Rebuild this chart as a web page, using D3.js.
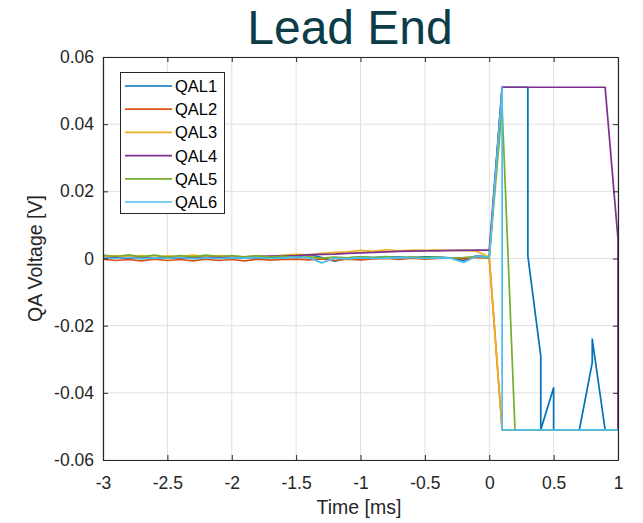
<!DOCTYPE html>
<html>
<head>
<meta charset="utf-8">
<script src="https://cdn.jsdelivr.net/npm/d3@7"></script>
<style>
  body { margin: 0; background: #fff; }
  text { font-family: "Liberation Sans", Arial, sans-serif; }
</style>
</head>
<body>
<svg id="chart" width="643" height="523"></svg>
<script>
// time axis (ms) - some stamps repeat where the trace jumps vertically
const time = [
  -3.0, -2.9, -2.8, -2.7, -2.6, -2.5, -2.4, -2.3, -2.2, -2.1,
  -2.0, -1.9, -1.8, -1.7, -1.6, -1.5, -1.4, -1.3, -1.2, -1.1,
  -1.0, -0.9, -0.8, -0.7, -0.6, -0.5, -0.4, -0.3, -0.2, -0.1, 0.0,
  0.1, 0.1, 0.2, 0.3, 0.3, 0.4, 0.4, 0.5, 0.5, 0.6, 0.7, 0.8, 0.8, 0.9, 1.0, 1.0
];

const qal1 = [
  0.0002, 0.0001, 0.0003, 0.0000, 0.0002, 0.0001, 0.0003, 0.0001, 0.0002, 0.0000,
  0.0002, 0.0003, 0.0001, 0.0004, 0.0002, 0.0005, 0.0012, 0.0003, -0.0008, 0.0002,
  0.0004, 0.0003, 0.0005, 0.0004, 0.0003, 0.0005, 0.0004, 0.0002, -0.0006, 0.0008, 0.0005,
  0.051, 0.051, 0.051, 0.051, 0.0007, -0.029, -0.051, -0.0385, -0.051, -0.051, -0.051, -0.031, -0.024, -0.051, -0.051, -0.051
];
const qal2 = [
  -0.0002, -0.0006, -0.0003, -0.0007, -0.0002, -0.0006, -0.0003, -0.0007, -0.0002, -0.0006,
  -0.0003, -0.0007, -0.0002, -0.0005, -0.0003, -0.0002, -0.0004, -0.0001, -0.0006, -0.0002,
  -0.0004, -0.0001, 0.0000, -0.0003, 0.0001, -0.0002, 0.0000, 0.0002, -0.0001, 0.0003, 0.0001,
  -0.051, -0.051, -0.051, -0.051, -0.051, -0.051, -0.051, -0.051, -0.051, -0.051, -0.051, -0.051, -0.051, -0.051, -0.051, -0.051
];
const qal3 = [
  0.0005, 0.0008, 0.0004, 0.0009, 0.0003, 0.0008, 0.0005, 0.0010, 0.0004, 0.0009,
  0.0006, 0.0004, 0.0008, 0.0006, 0.0010, 0.0012, 0.0011, 0.0015, 0.0018, 0.0020,
  0.0024, 0.0021, 0.0026, 0.0023, 0.0025, 0.0024, 0.0026, 0.0023, 0.0025, 0.0022, 0.0004,
  -0.051, -0.051, -0.051, -0.051, -0.051, -0.051, -0.051, -0.051, -0.051, -0.051, -0.051, -0.051, -0.051, -0.051, -0.051, -0.051
];
const qal4 = [
  0.0001, 0.0002, 0.0000, 0.0002, 0.0001, 0.0003, 0.0001, 0.0002, 0.0003, 0.0004,
  0.0003, 0.0005, 0.0006, 0.0007, 0.0008, 0.0009, 0.0011, 0.0012, 0.0013, 0.0015,
  0.0017, 0.0018, 0.0020, 0.0021, 0.0022, 0.0023, 0.0023, 0.0024, 0.0024, 0.0025, 0.0025,
  0.051, 0.051, 0.051, 0.051, 0.051, 0.051, 0.051, 0.051, 0.051, 0.051, 0.051, 0.051, 0.051, 0.051, 0.0057, -0.051
];
const qal5 = [
  0.0010, 0.0006, 0.0011, 0.0005, 0.0010, 0.0004, 0.0009, 0.0005, 0.0010, 0.0006,
  0.0009, 0.0005, 0.0008, 0.0004, 0.0007, 0.0003, 0.0005, 0.0001, 0.0004, 0.0002,
  0.0005, 0.0003, 0.0006, 0.0002, 0.0005, 0.0003, 0.0004, 0.0001, 0.0003, 0.0006, 0.0002,
  0.045, 0.045, -0.051, -0.051, -0.051, -0.051, -0.051, -0.051, -0.051, -0.051, -0.051, -0.051, -0.051, -0.051, -0.051, -0.051
];
const qal6 = [
  0.0002, 0.0000, 0.0003, -0.0001, 0.0002, 0.0000, 0.0003, -0.0001, 0.0002, 0.0000,
  0.0002, 0.0001, 0.0003, 0.0000, 0.0002, 0.0004, 0.0002, -0.0013, 0.0001, -0.0001,
  0.0002, 0.0000, 0.0002, 0.0001, 0.0003, 0.0000, 0.0002, 0.0001, -0.0012, 0.0007, 0.0003,
  0.051, -0.051, -0.051, -0.051, -0.051, -0.051, -0.051, -0.051, -0.051, -0.051, -0.051, -0.051, -0.051, -0.051, -0.051, -0.051
];

const names = ["QAL1", "QAL2", "QAL3", "QAL4", "QAL5", "QAL6"];
const colors = ["#0072BD", "#D95319", "#EDB120", "#7E2F8E", "#77AC30", "#4DBEEE"];
const xTicks = [-3, -2.5, -2, -1.5, -1, -0.5, 0, 0.5, 1];
const yTicks = [-0.06, -0.04, -0.02, 0, 0.02, 0.04, 0.06];

const series = [qal1, qal2, qal3, qal4, qal5, qal6].map((v, i) => ({
  name: names[i], color: colors[i],
  pts: v.map((y, j) => [time[j], y])
}));

const svg = d3.select("#chart");
const pLeft = 103, pRight = 618, pTop = 57, pBottom = 460;
const axisColor = "#262626";

const x = d3.scaleLinear().domain([-3, 1]).range([pLeft, pRight]);
const y = d3.scaleLinear().domain([-0.06, 0.06]).range([pBottom, pTop]);

// title
svg.append("text")
  .attr("x", 350).attr("y", 44)
  .attr("text-anchor", "middle")
  .style("font-size", "48px")
  .style("fill", "#0b3c47")
  .text("Lead End");

// grid
svg.append("g").selectAll("line").data(xTicks).join("line")
  .attr("x1", d => x(d)).attr("x2", d => x(d))
  .attr("y1", pTop).attr("y2", pBottom)
  .attr("stroke", "#e0e0e0").attr("stroke-width", 1);
svg.append("g").selectAll("line").data(yTicks).join("line")
  .attr("x1", pLeft).attr("x2", pRight)
  .attr("y1", d => y(d)).attr("y2", d => y(d))
  .attr("stroke", "#e0e0e0").attr("stroke-width", 1);

// lines
const line = d3.line().x(d => x(d[0])).y(d => y(d[1]));
svg.append("g").selectAll("path").data(series).join("path")
  .attr("d", d => line(d.pts))
  .attr("fill", "none")
  .attr("stroke", d => d.color)
  .attr("stroke-width", 1.7)
  .attr("stroke-linejoin", "round");

// axes
const fmt = d => d === 0 ? "0" : String(d);
svg.append("g").attr("transform", `translate(0,${pBottom})`)
  .call(d3.axisBottom(x).tickValues(xTicks).tickFormat(fmt).tickSizeInner(-5).tickSizeOuter(0).tickPadding(17));
svg.append("g").attr("transform", `translate(${pLeft},0)`)
  .call(d3.axisLeft(y).tickValues(yTicks).tickFormat(fmt).tickSizeInner(-5).tickSizeOuter(0).tickPadding(9));
svg.append("g").attr("transform", `translate(0,${pTop})`)
  .call(d3.axisTop(x).tickValues(xTicks).tickFormat("").tickSizeInner(-5).tickSizeOuter(0));
svg.append("g").attr("transform", `translate(${pRight},0)`)
  .call(d3.axisRight(y).tickValues(yTicks).tickFormat("").tickSizeInner(-5).tickSizeOuter(0));

svg.selectAll(".domain").attr("stroke", axisColor).attr("stroke-width", 1.2);
svg.selectAll(".tick line").attr("stroke", axisColor);
svg.selectAll(".tick text").style("font-size", "17.5px").style("font-family", "Liberation Sans, Arial, sans-serif").attr("fill", axisColor);

// axis labels
svg.append("text")
  .attr("x", 359).attr("y", 514)
  .attr("text-anchor", "middle")
  .style("font-size", "19.5px").style("fill", axisColor)
  .text("Time [ms]");
svg.append("text")
  .attr("transform", `translate(42,${(pTop + pBottom) / 2}) rotate(-90)`)
  .attr("text-anchor", "middle")
  .style("font-size", "19.5px").style("fill", axisColor)
  .text("QA Voltage [V]");

// legend
const lg = svg.append("g");
lg.append("rect")
  .attr("x", 120.5).attr("y", 72.5).attr("width", 104).attr("height", 141)
  .attr("fill", "#fff").attr("stroke", axisColor).attr("stroke-width", 1);
const rows = lg.selectAll("g.row").data(series).join("g")
  .attr("class", "row")
  .attr("transform", (d, i) => `translate(0,${86 + i * 23.2})`);
rows.append("line")
  .attr("x1", 125).attr("x2", 172).attr("y1", 0).attr("y2", 0)
  .attr("stroke", d => d.color).attr("stroke-width", 1.7);
rows.append("text")
  .attr("x", 175).attr("y", 6)
  .style("font-size", "16.5px").style("fill", "#000")
  .text(d => d.name);
</script>
</body>
</html>
